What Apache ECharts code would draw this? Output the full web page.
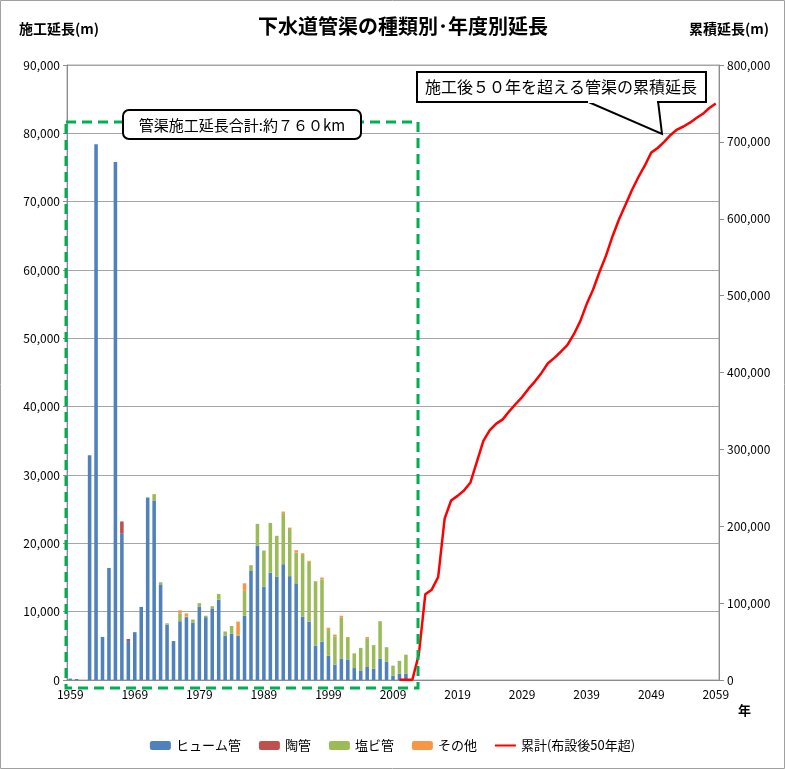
<!DOCTYPE html>
<html><head><meta charset="utf-8">
<script src="https://cdn.jsdelivr.net/npm/echarts@6/dist/echarts.min.js"></script>
<style>html,body{margin:0;padding:0;background:#fff}#c{width:785px;height:769px}</style>
</head><body><div id="c"></div>
<script>
const years = [1959,1960,1961,1962,1963,1964,1965,1966,1967,1968,1969,1970,1971,1972,1973,1974,1975,1976,1977,1978,1979,1980,1981,1982,1983,1984,1985,1986,1987,1988,1989,1990,1991,1992,1993,1994,1995,1996,1997,1998,1999,2000,2001,2002,2003,2004,2005,2006,2007,2008,2009,2010,2011,2012,2013,2014,2015,2016,2017,2018,2019,2020,2021,2022,2023,2024,2025,2026,2027,2028,2029,2030,2031,2032,2033,2034,2035,2036,2037,2038,2039,2040,2041,2042,2043,2044,2045,2046,2047,2048,2049,2050,2051,2052,2053,2054,2055,2056,2057,2058,2059];
// bar values for 1959-2011
const hume = [200,150,0,32900,78400,6300,16400,75800,21400,5700,7000,10700,26700,26200,14000,8100,5700,8600,9200,8400,10700,9200,10400,11750,6500,6800,6500,9400,15950,19700,13650,15700,15100,16950,15200,14150,9250,8550,5050,5600,3550,2250,3150,3000,1750,1400,1900,1650,3150,2700,650,950,950];
const tokan = [0,0,0,0,0,0,0,0,1800,300,0,0,0,0,0,0,0,0,0,0,0,0,0,0,0,0,0,0,0,0,0,0,0,0,0,0,0,0,0,0,0,0,0,0,0,0,0,0,0,0,0,0,0];
const enbi = [0,0,0,0,0,0,0,0,0,0,0,0,0,1000,300,200,0,1100,100,450,550,200,400,850,600,1100,100,3650,850,3150,5300,7300,6000,7450,6900,4500,9050,8750,9400,9100,3900,4150,5950,3150,2150,3300,4200,3450,5450,2100,1450,1850,2750];
const sonota = [0,0,0,0,0,0,0,0,0,0,0,0,0,0,0,0,0,500,450,0,0,0,0,0,0,0,1950,1100,0,0,0,0,0,250,200,350,250,150,0,300,200,250,300,150,0,0,200,0,0,0,0,0,0];
// cumulative (over 50 years) for 2010-2059
const lineStart = 2010;
const ruikei = [200,350,350,33000,111500,117500,134000,210000,233500,239500,
246500,257000,284000,311000,325000,333500,339000,349500,359000,368000,
379000,388500,399500,412000,419000,427000,435500,449500,466500,489000,
508000,531000,552000,577000,599000,618000,637000,654000,669000,686000,
692000,700000,709000,716000,720000,725000,731000,736500,744000,750000];
const leftTicks = {min:0,max:90000,interval:10000};
const rightTicks = {min:0,max:800000,interval:100000};

const pad = arr => years.map((y,i)=> i < arr.length ? arr[i] : null);
const lineData = years.map(y => y >= lineStart ? ruikei[y-lineStart] : null);
const fnt = '"Noto Sans CJK JP","Noto Sans",sans-serif';
const fmt = v => v.toLocaleString('en-US');
const lineIcon = 'path://M0,0L0.01,0L0.01,0.01Z M0,3.5L21,3.5L21,5.5L0,5.5Z M0,9L0.01,9L0.01,8.99Z';

const chart = echarts.init(document.getElementById('c'));
const barCommon = {type:'bar', stack:'a', barCategoryGap:'45%'};
chart.setOption({
  animation:false,
  textStyle:{fontFamily:fnt},
  title:{text:'下水道管渠の種類別･年度別延長', left:398, top:11, textAlign:'center',
    textStyle:{fontSize:20, fontWeight:'bold', color:'#000', fontFamily:fnt}},
  grid:{left:67, right:66, top:65, bottom:89, show:true, borderColor:'#a6a6a6', borderWidth:1},
  legend:{bottom:12, left:'center', itemWidth:21, itemHeight:9, itemGap:18,
    textStyle:{fontSize:13, color:'#000', fontFamily:fnt},
    data:['ヒューム管','陶管','塩ビ管','その他',{name:'累計(布設後50年超)', icon:lineIcon}]},
  xAxis:{type:'category', data:years.map(String), boundaryGap:true,
    axisLine:{lineStyle:{color:'#8c8c8c'}},
    axisTick:{interval:9, length:5, lineStyle:{color:'#8c8c8c'}},
    axisLabel:{interval:9, color:'#000', fontSize:12, margin:8, fontFamily:fnt}},
  yAxis:[
    {type:'value', min:leftTicks.min, max:leftTicks.max, interval:leftTicks.interval,
     axisLine:{show:true, lineStyle:{color:'#8c8c8c'}},
     axisTick:{show:true, length:4, lineStyle:{color:'#8c8c8c'}},
     splitLine:{lineStyle:{color:'#a6a6a6'}},
     axisLabel:{formatter:fmt, color:'#000', fontSize:12, margin:7, fontFamily:fnt}},
    {type:'value', min:rightTicks.min, max:rightTicks.max, interval:rightTicks.interval, position:'right',
     axisLine:{show:true, lineStyle:{color:'#8c8c8c'}},
     axisTick:{show:true, length:5, lineStyle:{color:'#8c8c8c'}},
     splitLine:{show:false},
     axisLabel:{formatter:fmt, color:'#000', fontSize:12, margin:8, fontFamily:fnt}}
  ],
  series:[
    Object.assign({name:'ヒューム管', data:pad(hume), itemStyle:{color:'#4F81BD'}}, barCommon),
    Object.assign({name:'陶管', data:pad(tokan), itemStyle:{color:'#C0504D'}}, barCommon),
    Object.assign({name:'塩ビ管', data:pad(enbi), itemStyle:{color:'#9BBB59'}}, barCommon),
    Object.assign({name:'その他', data:pad(sonota), itemStyle:{color:'#F79646'}}, barCommon),
    {name:'累計(布設後50年超)', type:'line', yAxisIndex:1, data:lineData, symbol:'none',
     lineStyle:{color:'#FF0000', width:2.5}, itemStyle:{color:'#FF0000'}, z:5}
  ],
  graphic:[
    {type:'rect', shape:{x:0.5,y:0.5,width:784,height:768}, style:{fill:'none', stroke:'#a0a0a0', lineWidth:1}, silent:true},
    {type:'text', left:19, top:22, style:{text:'施工延長(m)', fill:'#000', font:'bold 14px '+fnt}},
    {type:'text', left:689, top:22, style:{text:'累積延長(m)', fill:'#000', font:'bold 14px '+fnt}},
    {type:'text', left:738, top:704, style:{text:'年', fill:'#000', font:'bold 13px '+fnt}},
    {type:'rect', shape:{x:66, y:122, width:352, height:566}, z:10,
     style:{fill:'none', stroke:'#00B050', lineWidth:3, lineDash:[10,6]}},
    {type:'rect', shape:{x:123, y:110, width:238, height:29, r:6}, z:11,
     style:{fill:'#fff', stroke:'#000', lineWidth:2}},
    {type:'text', x:242, y:125, z:12,
     style:{text:'管渠施工延長合計:約７６０km', fill:'#000', font:'15px '+fnt, align:'center', verticalAlign:'middle'}},
    {type:'polygon', shape:{points:[[586,101],[658,101],[662,134]]}, z:11,
     style:{fill:'#fff', stroke:'#000', lineWidth:2}},
    {type:'rect', shape:{x:417, y:72, width:289, height:30}, z:11,
     style:{fill:'#fff', stroke:'#000', lineWidth:2}},
    {type:'rect', shape:{x:588, y:99, width:69, height:4}, z:12, style:{fill:'#fff'}},
    {type:'text', x:561, y:87, z:13,
     style:{text:'施工後５０年を超える管渠の累積延長', fill:'#000', font:'16px '+fnt, align:'center', verticalAlign:'middle'}}
  ]
});
</script></body></html>
